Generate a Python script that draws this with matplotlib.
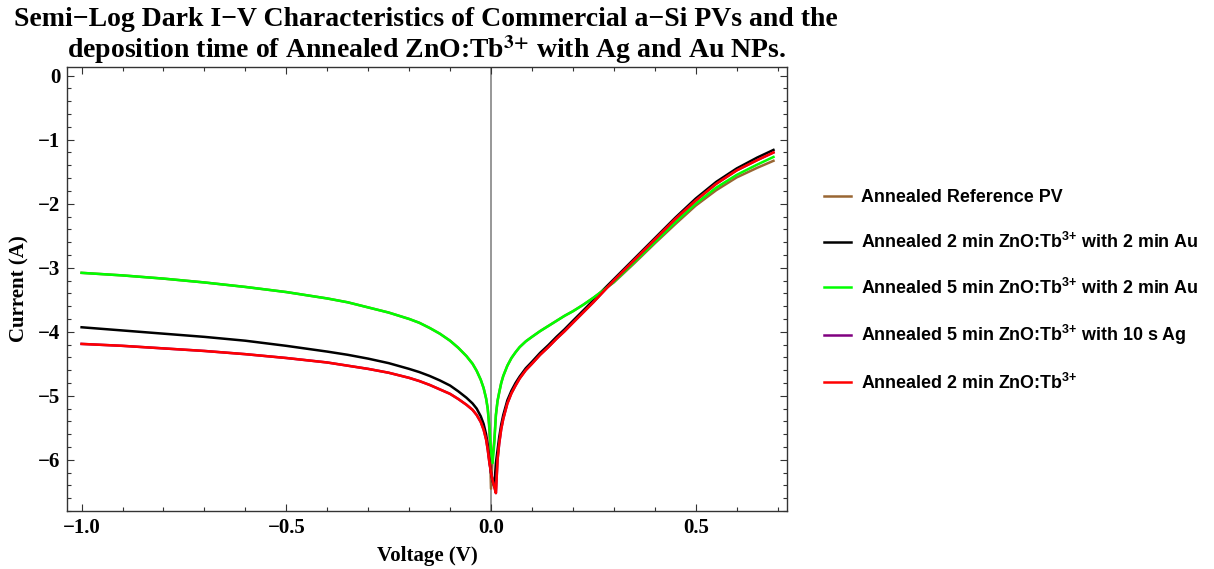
import matplotlib
matplotlib.use("Agg")
import matplotlib.pyplot as plt
from matplotlib.ticker import MultipleLocator, FixedLocator

plt.rcParams["mathtext.fontset"] = "custom"
plt.rcParams["mathtext.rm"] = "Liberation Sans:bold"
plt.rcParams["mathtext.bf"] = "Liberation Sans:bold"

# Bias voltage (V)
voltage = [-1.0, -0.9, -0.8, -0.7, -0.6, -0.5, -0.4, -0.35, -0.3, -0.25,
           -0.2, -0.175, -0.15, -0.125, -0.1, -0.08, -0.06, -0.045, -0.035, -0.025,
           -0.018, -0.012, -0.008, -0.004, 0.0, 0.004, 0.008, 0.012, 0.016, 0.02,
           0.025, 0.03, 0.04, 0.05, 0.06, 0.07, 0.085, 0.1, 0.12, 0.14,
           0.16, 0.18, 0.2, 0.225, 0.25, 0.275, 0.3, 0.35, 0.4, 0.45,
           0.5, 0.55, 0.6, 0.65, 0.69]

# log10 |I| for each device
ref_pv = [-3.08, -3.12, -3.17, -3.23, -3.30, -3.38, -3.48, -3.54, -3.62, -3.70,
          -3.80, -3.86, -3.94, -4.03, -4.14, -4.25, -4.38, -4.50, -4.61, -4.75,
          -4.88, -5.04, -5.20, -5.52, -6.45, -5.95, -5.70, -5.30, -5.08, -4.95,
          -4.80, -4.69, -4.53, -4.41, -4.32, -4.24, -4.15, -4.08, -3.99, -3.91,
          -3.83, -3.75, -3.68, -3.58, -3.47, -3.35, -3.23, -2.93, -2.62, -2.32,
          -2.03, -1.79, -1.59, -1.44, -1.33]
au_2min = [-3.93, -3.98, -4.03, -4.08, -4.14, -4.22, -4.31, -4.36, -4.42, -4.49,
           -4.58, -4.63, -4.69, -4.76, -4.84, -4.93, -5.03, -5.12, -5.20, -5.32,
           -5.44, -5.60, -5.77, -6.00, -6.20, -6.33, -6.42, -6.05, -5.85, -5.65,
           -5.45, -5.30, -5.07, -4.92, -4.80, -4.70, -4.57, -4.47, -4.33, -4.21,
           -4.08, -3.96, -3.83, -3.67, -3.51, -3.34, -3.18, -2.86, -2.54, -2.22,
           -1.92, -1.66, -1.45, -1.28, -1.16]
au_5min = [-3.08, -3.12, -3.17, -3.23, -3.30, -3.38, -3.48, -3.54, -3.62, -3.70,
           -3.80, -3.86, -3.94, -4.03, -4.14, -4.25, -4.38, -4.50, -4.61, -4.75,
           -4.88, -5.04, -5.20, -5.47, -5.85, -6.05, -5.75, -5.30, -5.08, -4.95,
           -4.80, -4.69, -4.53, -4.41, -4.32, -4.24, -4.15, -4.08, -3.99, -3.91,
           -3.83, -3.75, -3.68, -3.58, -3.47, -3.35, -3.22, -2.91, -2.60, -2.29,
           -2.00, -1.75, -1.55, -1.39, -1.27]
ag_10s = [-4.19, -4.22, -4.26, -4.30, -4.35, -4.41, -4.48, -4.53, -4.58, -4.64,
          -4.72, -4.77, -4.83, -4.90, -4.97, -5.05, -5.14, -5.22, -5.30, -5.41,
          -5.53, -5.68, -5.84, -6.04, -6.20, -6.32, -6.42, -6.52, -6.00, -5.75,
          -5.52, -5.36, -5.12, -4.96, -4.84, -4.73, -4.60, -4.50, -4.36, -4.24,
          -4.11, -3.99, -3.86, -3.70, -3.54, -3.37, -3.20, -2.88, -2.56, -2.24,
          -1.95, -1.69, -1.48, -1.32, -1.20]
zno_2min = [-4.19, -4.22, -4.26, -4.30, -4.35, -4.41, -4.48, -4.53, -4.58, -4.64,
            -4.72, -4.77, -4.83, -4.90, -4.97, -5.05, -5.14, -5.22, -5.30, -5.41,
            -5.53, -5.68, -5.84, -6.04, -6.20, -6.32, -6.42, -6.52, -6.00, -5.75,
            -5.52, -5.36, -5.12, -4.96, -4.84, -4.73, -4.60, -4.50, -4.36, -4.24,
            -4.11, -3.99, -3.86, -3.70, -3.54, -3.37, -3.20, -2.88, -2.56, -2.24,
            -1.95, -1.69, -1.48, -1.32, -1.20]

sup = "$^{\\mathbf{3{+}}}$"
labels = [
    "Annealed Reference PV",
    "Annealed 2 min ZnO:Tb" + sup + " with 2 min Au",
    "Annealed 5 min ZnO:Tb" + sup + " with 2 min Au",
    "Annealed 5 min ZnO:Tb" + sup + " with 10 s Ag",
    "Annealed 2 min ZnO:Tb" + sup,
]
series = [ref_pv, au_2min, au_5min, ag_10s, zno_2min]
colors = ["#996633", "#000000", "#00ff00", "#800080", "#ff0000"]

fig = plt.figure(figsize=(12.14, 5.69), dpi=100)
ax = fig.add_axes([0.0554, 0.1019, 0.5931, 0.7809])

ax.axvline(0.0, color="#7a7a7a", lw=1.1, zorder=1)
handles = []
for ys, c, lab in zip(series, colors, labels):
    h, = ax.plot(voltage, ys, color=c, lw=1.8, label=lab, zorder=2,
                 solid_joinstyle="round")
    handles.append(h)

ax.set_xlim(-1.035, 0.7237)
ax.set_ylim(-6.80, 0.14)
ax.xaxis.set_major_locator(FixedLocator([-1.0, -0.5, 0.0, 0.5]))
ax.xaxis.set_minor_locator(MultipleLocator(0.1))
ax.yaxis.set_major_locator(MultipleLocator(1))
ax.yaxis.set_minor_locator(MultipleLocator(0.2))
ax.tick_params(which="both", direction="in", top=True, right=True,
               color="#333333", width=0.8)
ax.tick_params(which="major", length=5, pad=5)
ax.tick_params(which="minor", length=3)
ax.set_xticklabels(["\u22121.0", "\u22120.5", "0.0", "0.5"])
for lbl in ax.get_xticklabels() + ax.get_yticklabels():
    lbl.set_fontfamily("Liberation Serif")
    lbl.set_fontweight("bold")
    lbl.set_fontsize(15)
for sp in ax.spines.values():
    sp.set_linewidth(1.0)
    sp.set_color("#333333")

ax.set_xlabel("Voltage (V)", fontfamily="Liberation Serif", fontweight="bold",
              fontsize=15, labelpad=6)
ax.set_ylabel("Current (A)", fontfamily="Liberation Serif", fontweight="bold",
              fontsize=15, labelpad=6)

fig.text(0.351, 0.988,
         "Semi\u2212Log Dark I\u2212V Characteristics of Commercial a\u2212Si PVs and the\n"
         "deposition time of Annealed ZnO:Tb$^{\\mathbf{3{+}}}$ with Ag and Au NPs.",
         ha="center", va="top", fontfamily="Liberation Serif", fontweight="bold",
         fontsize=20, linespacing=1.06, math_fontfamily="stix")

leg = fig.legend(handles=handles, loc="center left",
                 bbox_to_anchor=(824 / 1214, 1 - 291 / 569), frameon=False,
                 borderpad=0, borderaxespad=0,
                 prop={"family": "Liberation Sans", "weight": "bold", "size": 12.9},
                 handlelength=1.5, handletextpad=0.57, labelspacing=1.42)
for ln in leg.get_lines():
    ln.set_linewidth(1.8)

fig.savefig("out.png", dpi=100)
